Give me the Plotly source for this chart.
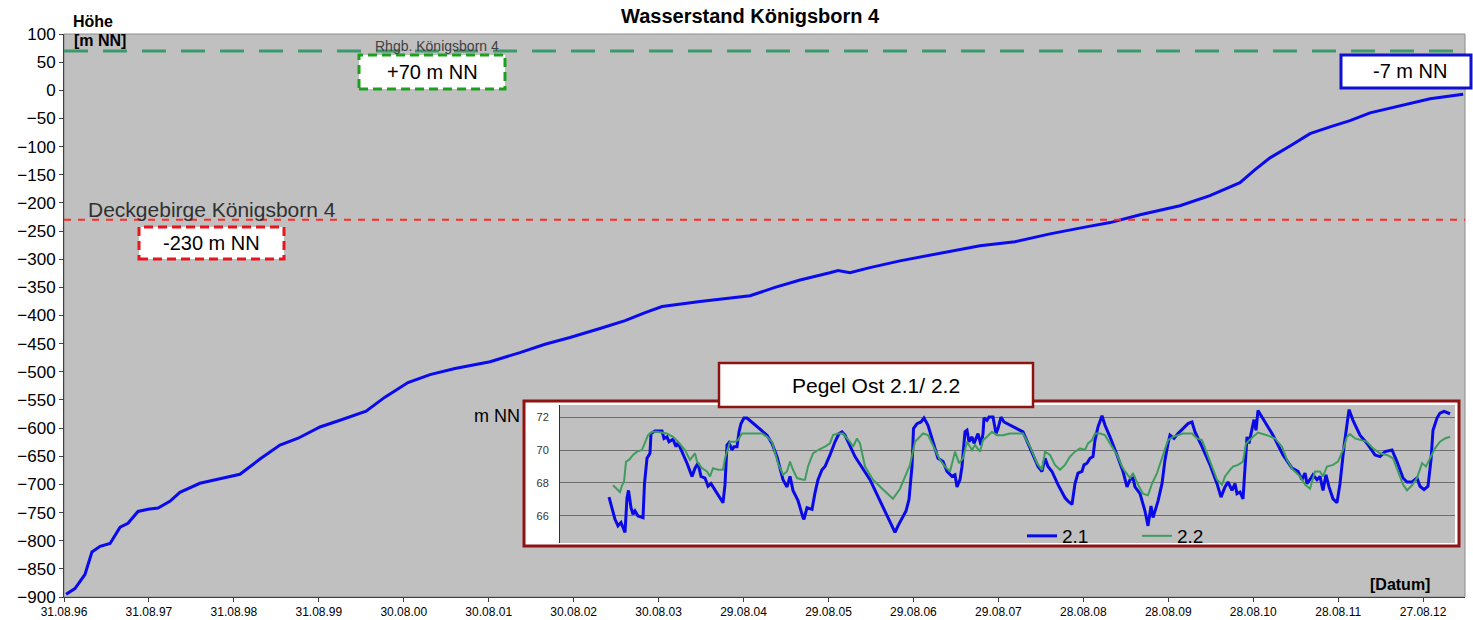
import plotly.graph_objects as go

# ---------------- data: main water level series ----------------
dates = ["1996-09-09", "1996-10-17", "1996-11-29", "1996-12-29", "1997-02-02", "1997-03-17",
         "1997-04-29", "1997-06-02", "1997-07-15", "1997-08-27", "1997-10-09", "1997-11-29",
         "1998-01-11", "1998-04-07", "1998-07-02", "1998-09-26", "1998-12-21", "1999-03-17",
         "1999-06-03", "1999-09-05", "1999-11-30", "2000-03-21", "2000-06-10", "2000-09-17",
         "2000-12-21", "2001-04-07", "2001-09-05", "2002-01-11", "2002-04-29", "2002-08-14",
         "2002-12-21", "2003-04-08", "2003-07-03", "2003-09-14", "2004-02-24", "2004-09-26",
         "2005-01-11", "2005-04-29", "2005-09-04", "2005-10-09", "2005-11-29", "2006-02-23",
         "2006-07-02", "2006-12-21", "2007-06-11", "2007-11-08", "2008-04-07", "2008-09-04",
         "2008-12-21", "2009-04-29", "2009-10-17", "2010-02-23", "2010-07-02", "2010-09-05",
         "2010-11-08", "2011-02-02", "2011-04-29", "2011-07-24", "2011-10-18", "2012-01-12",
         "2012-02-11", "2012-05-20", "2012-09-26", "2013-02-15"]
level = [-895, -885, -860, -820, -810, -805,
         -776, -769, -748, -744, -742, -730,
         -714, -698, -690, -682, -655, -630,
         -618, -598, -586, -570, -545, -519,
         -505, -494, -482, -466, -451, -439,
         -423, -409, -395, -384, -375, -365,
         -350, -337, -324, -320, -324, -315,
         -303, -290, -276, -269, -255, -243,
         -235, -221, -205, -187, -164, -141,
         -120, -99, -77, -65, -54, -40,
         -37, -28, -15, -7]

tick_dates = ["1996-08-31", "1997-08-31", "1998-08-31", "1999-08-31", "2000-08-30", "2001-08-30",
              "2002-08-30", "2003-08-30", "2004-08-29", "2005-08-29", "2006-08-29", "2007-08-29",
              "2008-08-28", "2009-08-28", "2010-08-28", "2011-08-28", "2012-08-27"]
tick_labels = ["31.08.96", "31.08.97", "31.08.98", "31.08.99", "30.08.00", "30.08.01",
               "30.08.02", "30.08.03", "29.08.04", "29.08.05", "29.08.06", "29.08.07",
               "28.08.08", "28.08.09", "28.08.10", "28.08.11", "27.08.12"]

ref_levels = [70, -230]
ref_names = ["Rhgb. Königsborn 4", "Deckgebirge Königsborn 4"]
ref_labels = ["+70 m NN", "-230 m NN"]
end_label = "-7 m NN"

# ---------------- data: inset Pegel Ost 2.1 / 2.2 (time in arbitrary units) ----------------
p21_t = [609, 615, 618, 621, 623, 625, 627, 628.5, 631, 633, 635, 638, 643, 644.5, 647, 650, 651, 655,
         662, 664, 667, 669, 673, 676, 678, 682, 687, 692, 695, 698, 701, 705, 708, 711, 715, 720,
         723, 725, 727, 729, 732, 734, 737, 739, 741, 744, 747, 767, 772, 777, 783, 787, 790, 793,
         798, 803, 804, 807, 812, 815, 818, 822, 825, 830, 835, 839, 842, 845, 855, 870, 883, 895,
         898, 902, 906, 909, 912, 913.5, 917, 921, 924, 928, 933, 938, 943, 947, 952, 955, 957, 960,
         962, 965, 967, 969, 972, 974, 978, 981, 983, 984, 987, 989, 993, 996, 998, 1001, 1004, 1023,
         1028, 1033, 1038, 1042, 1045, 1048, 1052, 1058, 1065, 1068, 1072, 1075, 1078, 1082, 1084,
         1087, 1090, 1093, 1095, 1098, 1102, 1105, 1110, 1117, 1123, 1127, 1130, 1133, 1135, 1140,
         1145, 1148, 1151, 1153, 1156, 1158, 1162, 1165, 1168, 1170, 1174, 1178, 1183, 1188, 1192,
         1195, 1202, 1210, 1217, 1221, 1225, 1228, 1232, 1235, 1237, 1240, 1243, 1245, 1247, 1249,
         1252, 1254, 1256, 1258, 1263, 1273, 1283, 1292, 1298, 1302, 1305, 1307, 1311, 1313, 1317,
         1320, 1323, 1326, 1329, 1333, 1337, 1340, 1344, 1347, 1349, 1353, 1360, 1367, 1375, 1380,
         1385, 1392, 1397, 1403, 1407, 1412, 1417, 1420, 1424, 1428, 1431, 1433, 1437, 1440, 1444,
         1450]
p21_v = [67.14, 65.8, 65.4, 65.6, 65.3, 65.0, 67.1, 67.55, 66.5, 66.1, 66.3, 66.0, 65.9, 67.96, 69.5,
         69.8, 71.0, 71.16, 71.16, 70.7, 70.8, 70.5, 70.65, 70.2, 70.45, 69.9, 69.2, 68.4, 68.9, 69.2,
         68.4, 68.3, 67.8, 67.96, 67.6, 67.1, 66.8, 67.9, 70.3, 70.45, 70.0, 70.2, 70.2, 71.1, 71.6,
         71.94, 71.94, 70.9, 70.4, 69.6, 68.2, 67.76, 68.4, 67.55, 66.94, 65.9, 65.8, 66.5, 66.4, 67.4,
         68.2, 68.8, 69.0, 69.7, 70.5, 71.0, 71.1, 70.9, 69.6, 68.2, 66.5, 65.0, 65.4, 65.9, 66.3, 67.0,
         69.0, 71.3, 71.6, 71.7, 71.94, 71.5, 70.5, 69.5, 69.3, 68.7, 68.4, 68.5, 67.76, 68.2, 69.0,
         71.1, 71.2, 70.5, 70.8, 70.4, 71.0, 70.3, 71.0, 71.94, 71.8, 72.0, 72.0, 71.0, 71.3, 72.0,
         71.7, 71.1, 70.4, 69.7, 69.0, 68.7, 69.5, 69.0, 68.7, 67.9, 67.1, 66.9, 66.7, 67.96, 68.6,
         68.7, 69.1, 69.2, 69.5, 69.6, 70.6, 71.4, 72.08, 71.5, 70.8, 69.7, 68.7, 67.76, 68.2, 68.3,
         67.76, 67.35, 66.3, 65.4, 66.6, 65.9, 66.5, 66.9, 67.96, 69.4, 70.4, 70.9, 70.7, 71.0, 71.3,
         71.6, 71.7, 71.1, 70.2, 69.1, 67.96, 67.14, 67.76, 68.06, 67.55, 67.96, 67.35, 67.45, 67.04,
         69.0, 70.8, 70.4, 71.4, 71.84, 71.2, 72.4, 71.9, 70.9, 69.7, 68.9, 68.7, 68.2, 68.6, 67.96,
         68.3, 68.5, 68.2, 68.4, 67.55, 68.5, 67.76, 67.04, 66.8, 67.96, 70.2, 71.4, 72.45, 71.8, 70.9,
         70.4, 69.7, 69.6, 69.9, 70.0, 69.3, 68.3, 68.06, 68.06, 68.3, 67.8, 67.6, 67.8, 69.4, 71.2,
         71.94, 72.24, 72.35, 72.2]

p22_t = [613, 617, 620, 622, 624, 626, 629, 633, 637, 642, 645, 648, 652, 657, 667, 673, 678, 685,
         690, 695, 697, 702, 707, 710, 713, 718, 723, 725, 730, 735, 738, 742, 747, 753, 762, 767,
         772, 778, 783, 787, 790, 793, 797, 803, 805, 808, 813, 818, 825, 830, 833, 838, 843, 850,
         853, 857, 860, 865, 873, 883, 893, 900, 907, 910, 915, 920, 923, 928, 933, 940, 945, 950,
         955, 959, 963, 967, 972, 975, 980, 983, 987, 992, 997, 1003, 1010, 1018, 1023, 1030, 1037,
         1042, 1045, 1050, 1055, 1060, 1065, 1070, 1075, 1080, 1085, 1088, 1092, 1095, 1100, 1105,
         1110, 1117, 1122, 1125, 1130, 1133, 1138, 1143, 1148, 1152, 1157, 1162, 1165, 1168, 1173,
         1178, 1183, 1192, 1197, 1202, 1207, 1212, 1217, 1222, 1225, 1230, 1233, 1238, 1243, 1246,
         1250, 1253, 1258, 1267, 1275, 1282, 1287, 1293, 1300, 1305, 1310, 1315, 1320, 1323, 1327,
         1333, 1338, 1343, 1347, 1350, 1355, 1362, 1367, 1373, 1380, 1387, 1393, 1398, 1403, 1407,
         1412, 1417, 1422, 1426, 1430, 1435, 1440, 1445, 1450]
p22_v = [67.86, 67.65, 67.45, 67.86, 68.06, 69.3, 69.4, 69.7, 69.9, 70.0, 70.5, 70.9, 71.1, 71.1,
         71.0, 70.8, 70.5, 70.0, 69.4, 69.8, 69.3, 68.9, 68.7, 68.4, 68.9, 68.8, 68.8, 69.5, 70.5,
         70.5, 70.6, 71.0, 71.0, 71.0, 71.0, 70.8, 70.5, 69.2, 68.5, 68.7, 69.3, 68.8, 68.3, 68.2,
         68.2, 69.0, 69.8, 70.0, 70.2, 70.4, 70.9, 71.0, 71.0, 70.5, 70.2, 70.7, 70.4, 69.0, 68.2,
         67.6, 67.04, 67.65, 68.7, 69.1, 70.5, 70.8, 71.0, 70.9, 70.3, 69.4, 69.0, 68.7, 69.9, 69.2,
         69.5, 70.5, 70.0, 70.3, 69.9, 70.6, 70.8, 71.1, 70.9, 70.9, 71.0, 71.0, 71.0, 70.2, 69.2,
         68.8, 69.9, 69.7, 69.1, 68.8, 69.1, 69.6, 69.9, 70.1, 70.0, 70.4, 70.6, 71.0, 71.0, 70.9,
         70.4, 69.7, 69.0, 68.7, 68.3, 68.6, 67.9, 67.35, 67.25, 67.96, 68.6, 69.5, 70.1, 70.6, 70.8,
         70.9, 71.0, 71.0, 70.7, 70.6, 69.8, 69.0, 68.2, 67.9, 68.4, 68.8, 69.0, 69.1, 69.3, 70.4,
         70.6, 70.8, 71.06, 70.9, 70.7, 70.2, 69.4, 68.8, 68.4, 67.9, 67.65, 68.7, 68.7, 68.4, 69.0,
         69.1, 69.3, 70.0, 70.8, 70.96, 70.7, 70.6, 70.5, 70.1, 69.8, 69.7, 69.5, 68.7, 67.9, 67.55,
         67.86, 68.3, 69.2, 69.0, 69.5, 70.1, 70.5, 70.7, 70.8]
inset_ticks = [66, 68, 70, 72]

# ---------------- layout helpers (pixel -> paper) ----------------
W, H = 1473, 620
ML, MR, MT, MB = 64, 8, 34, 23
PW, PH = W - ML - MR, H - MT - MB


def px(x):
    return (x - ML) / PW


def py(y):
    return (H - MB - y) / PH


FONT = "Liberation Sans, Arial, sans-serif"

fig = go.Figure()

fig.add_trace(go.Scatter(x=dates, y=level, mode="lines", line=dict(color="#0a0aee", width=3),
                         showlegend=False, hoverinfo="x+y"))

fig.add_trace(go.Scatter(x=p21_t, y=p21_v, mode="lines", name="2.1",
                         line=dict(color="#0a0ae8", width=3), xaxis="x2", yaxis="y2"))
fig.add_trace(go.Scatter(x=p22_t, y=p22_v, mode="lines", name="2.2",
                         line=dict(color="#3f9c5e", width=2), xaxis="x2", yaxis="y2"))

shapes = []
# plot frame
shapes.append(dict(type="rect", xref="paper", yref="paper", x0=0, x1=1, y0=0, y1=1,
                   line=dict(color="#8c8c8c", width=1), layer="below"))
# reference levels
ref_styles = [dict(color="#3a9a6c", width=3, dash="24px,15px"),
              dict(color="#ff2a2a", width=2, dash="7px,7px")]
for lv, st in zip(ref_levels, ref_styles):
    shapes.append(dict(type="line", xref="x domain", yref="y", x0=0, x1=1, y0=lv, y1=lv,
                       line=st, layer="above"))
# inset frame (white, dark red)
shapes.append(dict(type="rect", xref="paper", yref="paper", x0=px(524), x1=px(1459),
                   y0=py(546), y1=py(401), fillcolor="white",
                   line=dict(color="#8e1414", width=3), layer="below"))
# inset title box
shapes.append(dict(type="rect", xref="paper", yref="paper", x0=px(719), x1=px(1033),
                   y0=py(407), y1=py(363), fillcolor="white",
                   line=dict(color="#8e1414", width=2.5), layer="above"))
# label boxes
shapes.append(dict(type="rect", xref="paper", yref="paper", x0=px(359), x1=px(505),
                   y0=py(89), y1=py(55), fillcolor="white",
                   line=dict(color="#1ea01e", width=3, dash="9px,5px"), layer="above"))
shapes.append(dict(type="rect", xref="paper", yref="paper", x0=px(139), x1=px(284),
                   y0=py(259), y1=py(227), fillcolor="white",
                   line=dict(color="#e8141e", width=3, dash="9px,5px"), layer="above"))
shapes.append(dict(type="rect", xref="paper", yref="paper", x0=px(1341), x1=px(1471),
                   y0=py(88), y1=py(55), fillcolor="white",
                   line=dict(color="#1010d0", width=3), layer="above"))

ann = []


def add_text(text, x, y, size, bold=False, color="black", xanchor="center"):
    ann.append(dict(text=("<b>%s</b>" % text) if bold else text, x=px(x), y=py(y),
                    xref="paper", yref="paper", showarrow=False, xanchor=xanchor,
                    yanchor="middle", font=dict(family=FONT, size=size, color=color)))


add_text("Wasserstand Königsborn 4", 750, 16, 20, bold=True)
add_text("Höhe", 93, 22, 16, bold=True)
add_text("[m NN]", 100, 41, 16, bold=True)
add_text("[Datum]", 1400, 584, 16, bold=True)
add_text(ref_names[0], 437, 46, 14, color="#404040")
add_text(ref_names[1], 212, 209, 21, color="#303030")
add_text(ref_labels[0], 432, 72, 20)
add_text(ref_labels[1], 211, 243, 20)
add_text(end_label, 1410, 71, 20)
add_text("Pegel Ost 2.1/ 2.2", 876, 385, 21)
add_text("m NN", 497, 416, 18)

fig.update_layout(
    width=W, height=H,
    margin=dict(l=ML, r=MR, t=MT, b=MB, pad=0, autoexpand=False),
    paper_bgcolor="white", plot_bgcolor="#c0c0c0",
    font=dict(family=FONT, color="black"),
    xaxis=dict(type="date", range=["1996-08-31", "2013-02-23"], tickvals=tick_dates,
               ticktext=tick_labels, ticks="outside", ticklen=4, tickcolor="#404040",
               showline=True, linecolor="#404040", linewidth=1, showgrid=False, zeroline=False,
               tickfont=dict(size=12), domain=[0, 1], automargin=False),
    yaxis=dict(range=[-900, 100], dtick=50, tick0=0, ticks="outside", ticklen=4,
               tickcolor="#404040", showline=True, linecolor="#404040", linewidth=1,
               showgrid=False, zeroline=False, tickfont=dict(size=17), domain=[0, 1],
               automargin=False),
    xaxis2=dict(domain=[px(560), px(1455)], anchor="y2", range=[560, 1455],
                showticklabels=False, showgrid=False, zeroline=False, showline=False, ticks="",
                automargin=False),
    yaxis2=dict(domain=[py(543), py(405)], anchor="x2", range=[64.36, 72.73],
                tickvals=inset_ticks, gridcolor="#6e6e6e", gridwidth=1, showline=True,
                linecolor="#303030", zeroline=False, ticks="", ticklabelstandoff=8,
                tickfont=dict(size=11, color="#333333"), automargin=False),
    legend=dict(orientation="h", x=px(1022), y=py(536), xanchor="left", yanchor="middle",
                bgcolor="rgba(0,0,0,0)", font=dict(size=19), entrywidth=70,
                entrywidthmode="pixels"),
    shapes=shapes, annotations=ann,
)

fig.write_html("out.html", config={"displayModeBar": False},
               post_script="document.body.style.margin='0px';")
